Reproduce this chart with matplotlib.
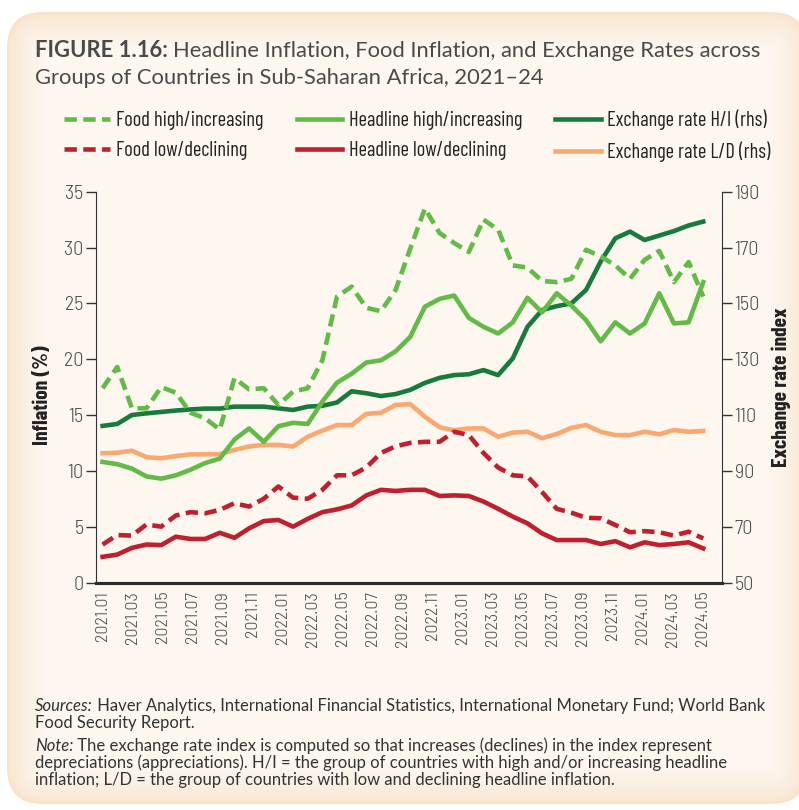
import numpy as np
import matplotlib
matplotlib.use("Agg")
import matplotlib.pyplot as plt
from matplotlib.patches import FancyBboxPatch

# monthly values (42 points)
food_high = [17.4, 19.3, 15.6, 15.6, 17.5, 17.0, 15.2, 14.7, 13.7, 18.3, 17.3, 17.4, 15.9, 17.1,
             17.4, 19.9, 25.6, 26.5, 24.6, 24.3, 26.2, 29.9, 33.5, 31.3, 30.4, 29.6, 32.5, 31.6,
             28.4, 28.2, 27.0, 26.9, 27.2, 29.8, 29.2, 28.4, 27.2, 28.9, 29.7, 26.9, 28.7, 25.6]
headline_high = [10.8, 10.6, 10.2, 9.5, 9.3, 9.6, 10.1, 10.7, 11.1, 12.8, 13.8, 12.6, 14.0, 14.3,
                 14.2, 16.2, 17.9, 18.7, 19.7, 19.9, 20.7, 22.0, 24.7, 25.4, 25.7, 23.7, 22.9, 22.3,
                 23.3, 25.5, 24.2, 25.9, 24.8, 23.5, 21.6, 23.3, 22.3, 23.2, 25.9, 23.2, 23.3, 26.9]
food_low = [3.4, 4.25, 4.2, 5.2, 5.0, 6.0, 6.3, 6.2, 6.5, 7.1, 6.8, 7.5, 8.6, 7.6,
            7.5, 8.3, 9.6, 9.6, 10.3, 11.6, 12.2, 12.5, 12.6, 12.6, 13.5, 13.2, 11.6, 10.3,
            9.6, 9.5, 8.1, 6.6, 6.25, 5.8, 5.75, 5.15, 4.5, 4.6, 4.5, 4.2, 4.55, 3.95]
headline_low = [2.3, 2.5, 3.1, 3.4, 3.35, 4.1, 3.9, 3.9, 4.45, 4.0, 4.85, 5.5, 5.6, 5.0,
                5.7, 6.3, 6.55, 6.9, 7.8, 8.3, 8.2, 8.3, 8.3, 7.75, 7.8, 7.75, 7.25, 6.6,
                5.9, 5.3, 4.4, 3.8, 3.8, 3.8, 3.45, 3.7, 3.15, 3.6, 3.35, 3.45, 3.6, 3.05]
exch_hi = [106.1, 106.8, 110.0, 110.6, 111.1, 111.6, 112.0, 112.3, 112.3, 113.0, 113.0, 113.0, 112.4, 111.8,
           113.0, 113.3, 114.5, 118.5, 117.8, 116.8, 117.5, 119.0, 121.5, 123.3, 124.3, 124.6, 126.1, 124.3,
           130.3, 141.6, 147.6, 149.0, 150.0, 154.8, 165.0, 173.3, 175.7, 172.7, 174.3, 175.9, 177.9, 179.3]
exch_lo = [96.3, 96.5, 97.2, 94.9, 94.5, 95.3, 95.9, 95.9, 96.0, 97.5, 98.7, 99.3, 99.3, 98.7,
           102.2, 104.4, 106.4, 106.4, 110.4, 110.8, 113.6, 113.9, 109.4, 105.6, 104.5, 105.2, 105.2, 102.2,
           103.7, 104.0, 101.7, 103.2, 105.4, 106.4, 104.0, 102.8, 102.8, 104.0, 103.1, 104.6, 104.0, 104.3]

tick_labels = ['2021.01', '2021.03', '2021.05', '2021.07', '2021.09', '2021.11',
               '2022.01', '2022.03', '2022.05', '2022.07', '2022.09', '2022.11',
               '2023.01', '2023.03', '2023.05', '2023.07', '2023.09', '2023.11',
               '2024.01', '2024.03', '2024.05']

LGREEN = '#62bb46'
DGREEN = '#187a3d'
RED = '#c01f2e'
ORANGE = '#f9a870'
TXT = '#4a4a4a'
COND = ['Barlow Semi Condensed', 'DejaVu Sans']
NARROW = ['Barlow Condensed', 'DejaVu Sans']
SANS = ['Lato', 'DejaVu Sans']
W, H = 799, 810

fig = plt.figure(figsize=(W / 100, H / 100), dpi=100)
fig.patch.set_facecolor('white')

# background panel with soft orange edge
bg = fig.add_axes([0, 0, 1, 1], zorder=-10)
bg.set_xlim(0, W)
bg.set_ylim(H, 0)
bg.axis('off')
edge = np.array([248, 226, 203]) / 255
center = np.array([253, 247, 239]) / 255
n = 18
for i in range(n):
    t = (i / (n - 1)) ** 0.6
    c = edge * (1 - t) + center * t
    inset = i * 2.2
    bg.add_patch(FancyBboxPatch((7 + inset, 12 + inset), 800 - 2 * inset, 792 - 2 * inset,
                                boxstyle='round,pad=0,rounding_size=%f' % max(36 - inset, 4),
                                fc=c, ec='none'))

x = np.arange(len(food_high))

ax = fig.add_axes([96 / W, 1 - 582.5 / H, (722 - 96) / W, (582.5 - 191.7) / H])
ax.patch.set_alpha(0)
ax2 = ax.twinx()

lw = 3.3
dash = (2.7, 1.4)
l1, = ax.plot(x, food_high, color=LGREEN, lw=lw, ls=(0, dash), label='Food high/increasing')
l2, = ax.plot(x, food_low, color=RED, lw=lw, ls=(0, dash), label='Food low/declining')
l3, = ax.plot(x, headline_high, color=LGREEN, lw=lw, label='Headline high/increasing')
l4, = ax.plot(x, headline_low, color=RED, lw=lw, label='Headline low/declining')
l5, = ax2.plot(x, exch_hi, color=DGREEN, lw=lw, label='Exchange rate H/I (rhs)')
l6, = ax2.plot(x, exch_lo, color=ORANGE, lw=lw, label='Exchange rate L/D (rhs)')
ax2.set_zorder(ax.get_zorder() - 1)
ax.set_zorder(ax2.get_zorder() + 1)

ax.set_xlim(-0.45, 42.28)
ax.set_ylim(0, 35)
ax2.set_ylim(50, 190)
ax.set_yticks(range(0, 36, 5))
ax2.set_yticks(range(50, 191, 20))
ax.set_xticks(np.linspace(0, 41, len(tick_labels)))
ax.set_xticklabels(tick_labels, rotation=90, fontsize=13, color=TXT, family=COND, fontweight=300)
ax.tick_params(axis='x', length=0, pad=6)
for a in (ax, ax2):
    a.tick_params(axis='y', length=7, width=1, color='#333333', labelsize=14.5,
                  labelcolor=TXT, pad=2)
    for lab in a.get_yticklabels():
        lab.set_family(COND)
        lab.set_fontweight(300)
    a.spines['top'].set_visible(False)
    a.spines['left'].set_color('#333333')
    a.spines['right'].set_color('#333333')
    a.spines['bottom'].set_color('#2b2b2b')
    a.spines['bottom'].set_linewidth(2.2)
ax.spines['right'].set_visible(False)
ax2.spines['left'].set_visible(False)

fig.text(42 / W, 1 - 395 / H, 'Inflation (%)', rotation=90, ha='center', va='center',
         fontsize=15.5, fontweight='bold', color='#222222', family=NARROW)
fig.text(781 / W, 1 - 387 / H, 'Exchange rate index', rotation=90, ha='center', va='center',
         fontsize=15.5, fontweight='bold', color='#222222', family=NARROW)

leg = fig.legend(handles=[l1, l2, l3, l4, l5, l6], loc='upper left', ncol=3,
                 bbox_to_anchor=(64 / W, 1 - 110 / H), frameon=False, borderpad=0,
                 borderaxespad=0, handlelength=2.25, handletextpad=0.32, columnspacing=1.6,
                 labelspacing=0.53, prop={'family': NARROW, 'size': 14.7})
for t in leg.get_texts():
    t.set_color('#222222')

renderer = fig.canvas.get_renderer()


def runs(x0, y0, parts, **kw):
    xx = x0
    for s, style in parts:
        t = fig.text(xx / W, 1 - y0 / H, s, va='baseline', ha='left', **style, **kw)
        bb = t.get_window_extent(renderer)
        xx += bb.width


title_kw = dict(fontsize=15.8, color=TXT, family=SANS)
runs(35, 57, [('FIGURE 1.16: ', {'fontweight': 'bold'}),
              ('Headline Inflation, Food Inflation, and Exchange Rates across', {})], **title_kw)
runs(35, 84, [('Groups of Countries in Sub-Saharan Africa, 2021\u201324', {})], **title_kw)

note_kw = dict(fontsize=12.0, color='#333333', family=SANS)
runs(35, 711, [('Sources:', {'style': 'italic'}),
               (' Haver Analytics, International Financial Statistics, International Monetary Fund; World Bank', {})],
     **note_kw)
runs(35, 728, [('Food Security Report.', {})], **note_kw)
runs(35, 751, [('Note:', {'style': 'italic'}),
               (' The exchange rate index is computed so that increases (declines) in the index represent', {})],
     **note_kw)
runs(35, 768, [('depreciations (appreciations). H/I = the group of countries with high and/or increasing headline', {})],
     **note_kw)
runs(35, 785, [('inflation; L/D = the group of countries with low and declining headline inflation.', {})],
     **note_kw)

fig.savefig('out.png', dpi=100)
